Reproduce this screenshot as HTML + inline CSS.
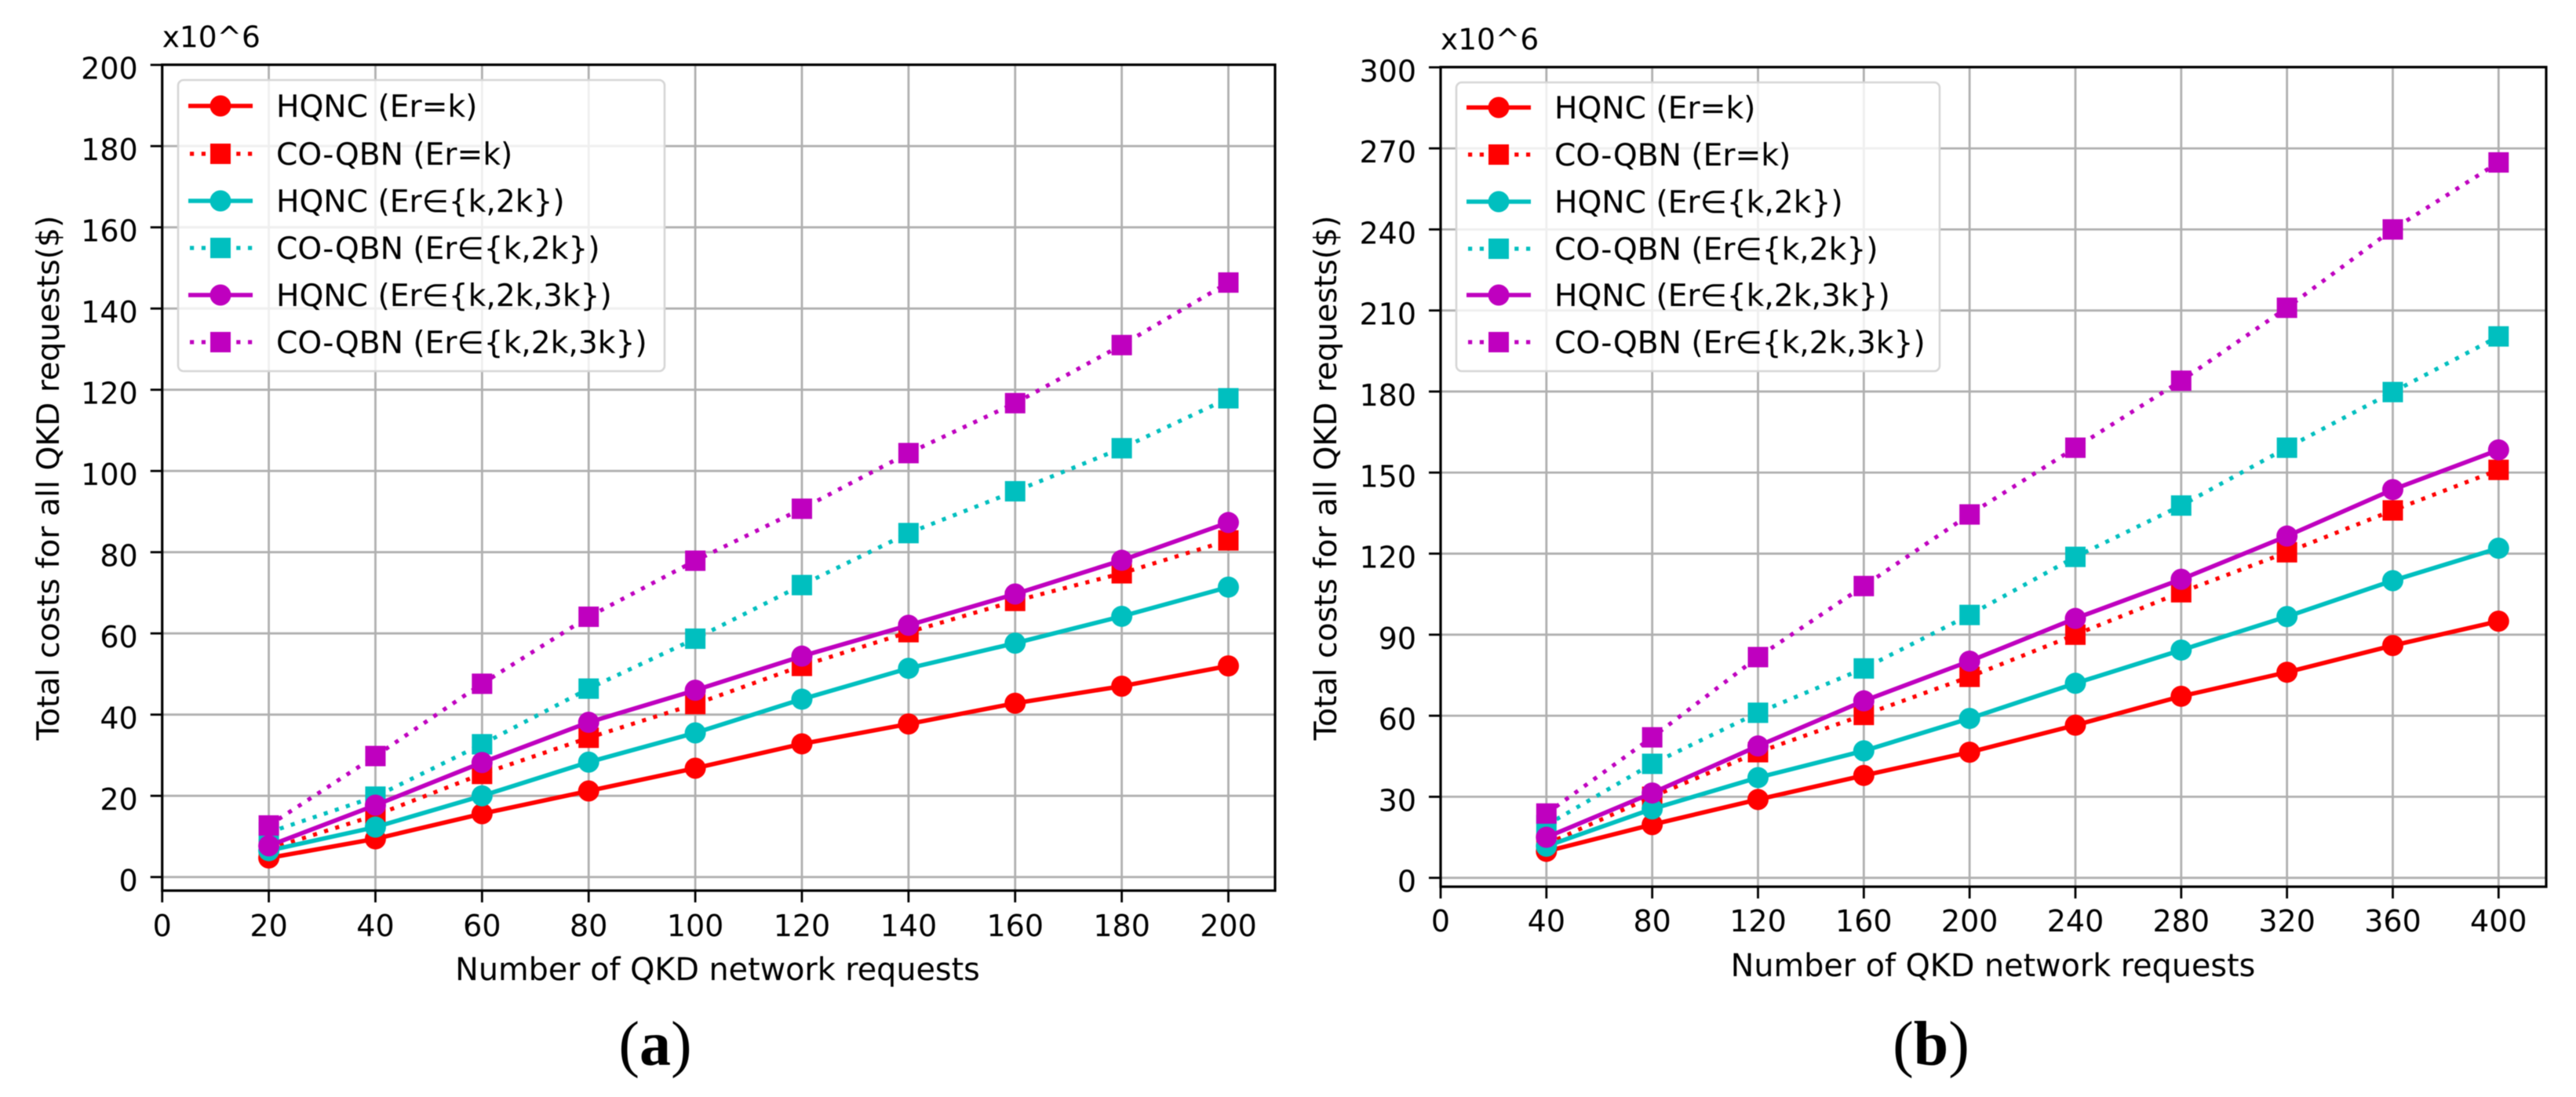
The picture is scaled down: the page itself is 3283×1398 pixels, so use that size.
<!DOCTYPE html>
<html lang="en">
<head>
<meta charset="utf-8">
<title>Total costs for QKD requests</title>
<style>
html,body{margin:0;padding:0;background:#fff;width:3283px;height:1398px;overflow:hidden}
svg{display:block;filter:blur(.6px)}
text{font-family:"DejaVu Sans","Liberation Sans",sans-serif;fill:#000}
.cap{font-family:"Liberation Serif",serif}
</style>
</head>
<body>
<svg id="figure" xmlns="http://www.w3.org/2000/svg" width="3283" height="1398" viewBox="0 0 3283 1398">
<text class="cap" x="835" y="1357" font-size="80" text-anchor="middle">(<tspan font-weight="bold">a</tspan>)</text>
<text class="cap" x="2461" y="1357" font-size="80" text-anchor="middle">(<tspan font-weight="bold">b</tspan>)</text>
</svg>
<script>
// Panel (a) data
const categoriesA = [20, 40, 60, 80, 100, 120, 140, 160, 180, 200];
const hqncKA = [4.7, 9.4, 15.6, 21.2, 26.8, 32.8, 37.7, 42.8, 47, 52];
const coqbnKA = [6.9, 15.2, 25.4, 34.3, 42.6, 52, 60.3, 68, 74.8, 82.9];
const hqnc2kA = [6.5, 12.3, 20, 28.3, 35.5, 43.8, 51.4, 57.6, 64.2, 71.4];
const coqbn2kA = [11, 19.8, 32.7, 46.4, 58.7, 71.9, 84.7, 95, 105.6, 117.9];
const hqnc3kA = [7.7, 17.7, 28.2, 38.1, 46, 54.4, 62, 69.7, 78, 87.3];
const coqbn3kA = [12.7, 29.8, 47.6, 64.1, 77.9, 90.7, 104.4, 116.7, 131, 146.4];
const xTickLabelsA = [0, 20, 40, 60, 80, 100, 120, 140, 160, 180, 200];
const yTickLabelsA = [0, 20, 40, 60, 80, 100, 120, 140, 160, 180, 200];

// Panel (b) data
const categoriesB = [40, 80, 120, 160, 200, 240, 280, 320, 360, 400];
const hqncKB = [9.8, 19.7, 29, 37.9, 46.5, 56.5, 67.2, 76.1, 86, 95];
const coqbnKB = [12.5, 30, 46.5, 60.3, 74.4, 90, 105.7, 120.5, 136, 151];
const hqnc2kB = [11.7, 25.5, 37.1, 47, 59, 72, 84.3, 96.7, 110, 122];
const coqbn2kB = [19.5, 42.2, 61.1, 77.5, 97.3, 118.8, 137.8, 159.2, 179.8, 200.4];
const hqnc3kB = [15, 31.4, 48.8, 65.5, 80.2, 96, 110.5, 126.5, 143.7, 158.4];
const coqbn3kB = [23.8, 52, 81.7, 108, 134.5, 159.2, 184, 211, 240, 264.8];
const xTickLabelsB = [0, 40, 80, 120, 160, 200, 240, 280, 320, 360, 400];
const yTickLabelsB = [0, 30, 60, 90, 120, 150, 180, 210, 240, 270, 300];

const seriesLabels = ['HQNC (Er=k)', 'CO-QBN (Er=k)', 'HQNC (Er∈{k,2k})', 'CO-QBN (Er∈{k,2k})', 'HQNC (Er∈{k,2k,3k})', 'CO-QBN (Er∈{k,2k,3k})'];
const seriesSlugs = ['hqnc-k', 'coqbn-k', 'hqnc-2k', 'coqbn-2k', 'hqnc-3k', 'coqbn-3k'];
const seriesColors = ['#ff0000', '#ff0000', '#00bfbf', '#00bfbf', '#bf00bf', '#bf00bf'];
const drawOrder = [1, 3, 5, 0, 2, 4];

const NS = 'http://www.w3.org/2000/svg';
const root = document.getElementById('figure');
function make(parent, tag, attrs) {
  const e = document.createElementNS(NS, tag);
  for (const k in attrs) e.setAttribute(k, attrs[k]);
  parent.appendChild(e);
  return e;
}
const MARKER = 26, SOLID = 5.6, DOT = '5.2 9.6';
const FS_TICK = 38, FS_LEGEND = 39.2, FS_XLABEL = 39.7, FS_YLABEL = 39.3, FS_OFFSET = 37.5;

function drawMarker(parent, idx, cx, cy) {
  const isSquare = idx % 2 === 1;
  const m = isSquare
    ? make(parent, 'rect', {x: cx - MARKER / 2, y: cy - MARKER / 2, width: MARKER, height: MARKER, fill: seriesColors[idx]})
    : make(parent, 'circle', {cx: cx, cy: cy, r: MARKER / 2 + 0.5, fill: seriesColors[idx]});
  
  
}

function drawPanel(cfg) {
  const g = make(root, 'g', {});
  
  

  const sx = v => cfg.x0 + v * cfg.xScale;
  const sy = v => cfg.y0 - v * cfg.yScale;

  // grid + ticks
  cfg.xTicks.forEach(t => {
    if (t !== 0) {
      const gl = make(g, 'line', {x1: sx(t), x2: sx(t), y1: cfg.top, y2: cfg.bottom, stroke: '#b0b0b0', 'stroke-width': 2.8});
      
      
    }
    const tk = make(g, 'line', {x1: sx(t), x2: sx(t), y1: cfg.bottom, y2: cfg.bottom + 15, stroke: '#000', 'stroke-width': 2.8});
    
    
    const tl = make(g, 'text', {x: sx(t), y: cfg.xTickBase, 'font-size': FS_TICK, 'text-anchor': 'middle'});
    tl.textContent = t;
    
    
  });
  cfg.yTicks.forEach(t => {
    const gl = make(g, 'line', {x1: cfg.x0, x2: cfg.right, y1: sy(t), y2: sy(t), stroke: '#b0b0b0', 'stroke-width': 2.8});
    
    
    const tk = make(g, 'line', {x1: cfg.x0 - 15, x2: cfg.x0, y1: sy(t), y2: sy(t), stroke: '#000', 'stroke-width': 2.8});
    
    
    const tl = make(g, 'text', {x: cfg.x0 - 31, y: sy(t) + 18, 'font-size': FS_TICK, 'text-anchor': 'end'});
    tl.textContent = t;
    
    
  });

  // series
  drawOrder.forEach(i => {
    const sg = make(g, 'g', {});
    
    
    const vals = cfg.series[i];
    const pts = vals.map((v, j) => sx(cfg.categories[j]) + ',' + sy(v)).join(' ');
    const attrs = {points: pts, fill: 'none', stroke: seriesColors[i]};
    if (i % 2 === 1) { attrs['stroke-width'] = 5.2; attrs['stroke-dasharray'] = DOT; }
    else { attrs['stroke-width'] = SOLID; }
    const pl = make(sg, 'polyline', attrs);
    
    
    vals.forEach((v, j) => drawMarker(sg, i, sx(cfg.categories[j]), sy(v)));
  });

  // spines
  const fr = make(g, 'rect', {x: cfg.x0, y: cfg.top, width: cfg.right - cfg.x0, height: cfg.bottom - cfg.top, fill: 'none', stroke: '#000', 'stroke-width': 3.2});
  
  

  // legend
  const lg = make(g, 'g', {});
  
  
  const box = make(lg, 'rect', {x: cfg.legend.x, y: cfg.legend.y, width: cfg.legend.w, height: cfg.legend.h, rx: 7, ry: 7, fill: '#fff', 'fill-opacity': 0.8, stroke: '#d6d6d6', 'stroke-width': 2.6});
  
  
  seriesLabels.forEach((lab, i) => {
    const ly = cfg.legend.rows[i];
    const en = make(lg, 'g', {});
    
    
    const attrs = {x1: cfg.legend.hx, x2: cfg.legend.hx + 82, y1: ly, y2: ly, stroke: seriesColors[i]};
    if (i % 2 === 1) { attrs['stroke-width'] = 5.2; attrs['stroke-dasharray'] = DOT; attrs.x1 = cfg.legend.hx + 2; }
    else { attrs['stroke-width'] = SOLID; }
    const hl = make(en, 'line', attrs);
    
    
    drawMarker(en, i, cfg.legend.hx + 41, ly);
    const t = make(en, 'text', {x: cfg.legend.tx, y: ly + 14, 'font-size': FS_LEGEND});
    t.textContent = lab;
    
    
  });

  // labels
  const xl = make(g, 'text', {x: cfg.xLabelX, y: cfg.xLabelY, 'font-size': FS_XLABEL, 'text-anchor': 'middle'});
  xl.textContent = 'Number of QKD network requests';
  
  
  const yl = make(g, 'text', {'font-size': FS_YLABEL, 'text-anchor': 'middle', transform: 'translate(' + cfg.yLabelX + ',609) rotate(-90)'});
  yl.textContent = 'Total costs for all QKD requests($)';
  
  
  const off = make(g, 'text', {x: cfg.x0, y: cfg.offsetY, 'font-size': FS_OFFSET});
  off.textContent = 'x10^6';
  
  
}

drawPanel({
  id: 'a', x0: 206.7, right: 1625, top: 82.5, bottom: 1135, y0: 1117.7,
  xScale: 6.794, yScale: 5.175,
  categories: categoriesA,
  series: [hqncKA, coqbnKA, hqnc2kA, coqbn2kA, hqnc3kA, coqbn3kA],
  xTicks: xTickLabelsA, yTicks: yTickLabelsA,
  xTickBase: 1193, xLabelX: 914.5, xLabelY: 1249, yLabelX: 75, offsetY: 60,
  legend: {x: 227, y: 102, w: 620, h: 371, hx: 240, tx: 352, rows: [135, 196, 256, 316, 376, 436]}
});
drawPanel({
  id: 'b', x0: 1836, right: 3245, top: 85.5, bottom: 1130, y0: 1118.7,
  xScale: 3.3708, yScale: 3.443,
  categories: categoriesB,
  series: [hqncKB, coqbnKB, hqnc2kB, coqbn2kB, hqnc3kB, coqbn3kB],
  xTicks: xTickLabelsB, yTicks: yTickLabelsB,
  xTickBase: 1187, xLabelX: 2540, xLabelY: 1244, yLabelX: 1703, offsetY: 63,
  legend: {x: 1856, y: 105, w: 616, h: 368, hx: 1869, tx: 1981, rows: [137, 197, 257, 317, 376, 436]}
});
</script>
</body>
</html>
